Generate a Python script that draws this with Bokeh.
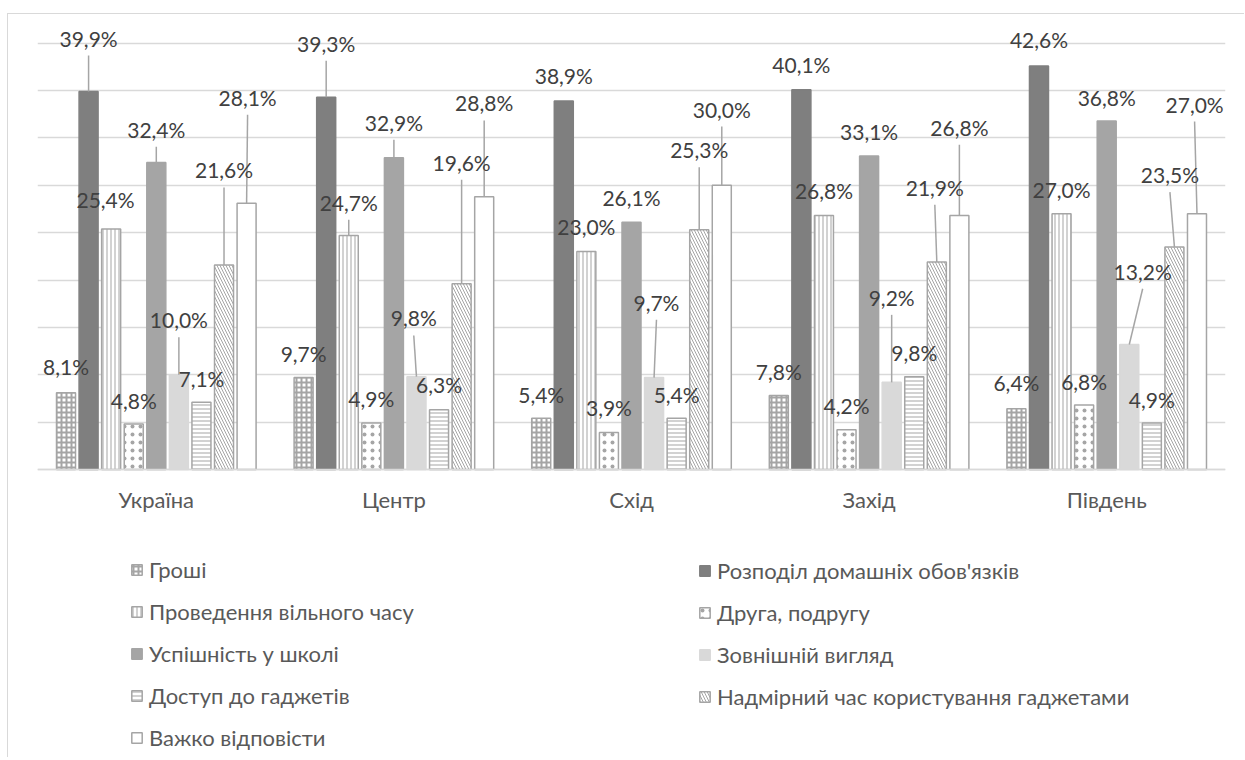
from bokeh.plotting import figure
from bokeh.models import Range1d, FixedTicker, ColumnDataSource, Legend, LegendItem
from bokeh.embed import file_html
from bokeh.resources import INLINE
from bokeh.core.properties import value

# ---------------- data ----------------
regions = ["Україна", "Центр", "Схід", "Захід", "Південь"]
series_names = [
    "Гроші",
    "Розподіл домашніх обов'язків",
    "Проведення вільного часу",
    "Друга, подругу",
    "Успішність у школі",
    "Зовнішній вигляд",
    "Доступ до гаджетів",
    "Надмірний час користування гаджетами",
    "Важко відповісти",
]
groshi = [8.1, 9.7, 5.4, 7.8, 6.4]
rozpodil = [39.9, 39.3, 38.9, 40.1, 42.6]
dozvillia = [25.4, 24.7, 23.0, 26.8, 27.0]
druh = [4.8, 4.9, 3.9, 4.2, 6.8]
uspishnist = [32.4, 32.9, 26.1, 33.1, 36.8]
vyhliad = [10.0, 9.8, 9.7, 9.2, 13.2]
dostup = [7.1, 6.3, 5.4, 9.8, 4.9]
nadmirnyi = [21.6, 19.6, 25.3, 21.9, 23.5]
vazhko = [28.1, 28.8, 30.0, 26.8, 27.0]
series_values = [groshi, rozpodil, dozvillia, druh, uspishnist, vyhliad, dostup, nadmirnyi, vazhko]
grid_ticks = [0, 5, 10, 15, 20, 25, 30, 35, 40, 45]

# ---------------- label placement (pixel offsets of the label centre from the bar top) ----------------
label_dx = [
    [0, 0, -5.6, 0, 0, 0, 0, 0, 1],
    [0, 0, 0, 0, 0, -2.7, 0, 0, 0],
    [0, 0, 0, 0, 0, 2.4, 0, 0, 0],
    [0, 0, 0, 0, 0, 0, 0, -2, 0],
    [0, 0, 0, 0, 0, 13.4, 0, -4.5, -2.4],
]
label_dy = [
    [-26, -53.5, -29.4, -23.5, -33.4, -55, -24, -95, -106],
    [-24.6, -54, -33.3, -24.6, -35.6, -58.7, -25.3, -121.5, -93.7],
    [-24.3, -25.5, -25.3, -25.3, -25, -75.3, -24.3, -80, -76.3],
    [-24.3, -25, -25, -24, -24.6, -85, -23.7, -74.7, -88.3],
    [-26, -26.5, -24, -23.8, -23.6, -73.2, -24, -72.2, -109.7],
]

# ---------------- styles ----------------
GRAY_OUT = "#a5a5a5"
styles = [
    dict(fill_color="white", line_color=GRAY_OUT, hatch_pattern="cross", hatch_color=GRAY_OUT, hatch_scale=5, hatch_weight=2),
    dict(fill_color="#7f7f7f", line_color="#7f7f7f"),
    dict(fill_color="white", line_color=GRAY_OUT, hatch_pattern="vertical_line", hatch_color=GRAY_OUT, hatch_scale=4, hatch_weight=1),
    dict(fill_color="white", line_color=GRAY_OUT, hatch_pattern="dot", hatch_color=GRAY_OUT, hatch_scale=8, hatch_weight=1.5),
    dict(fill_color="#a5a5a5", line_color="#a5a5a5"),
    dict(fill_color="#d9d9d9", line_color="#d9d9d9"),
    dict(fill_color="white", line_color=GRAY_OUT, hatch_pattern="horizontal_line", hatch_color=GRAY_OUT, hatch_scale=4, hatch_weight=1),
    dict(fill_color="white", line_color=GRAY_OUT, hatch_pattern="left_diagonal_line", hatch_color=GRAY_OUT, hatch_scale=6, hatch_weight=1),
    dict(fill_color="white", line_color=GRAY_OUT),
]

FONT = "Lato"
W, H = 1237, 744
FL, FR, FT, FB = 29, 20, 1, 2
BASE = 455          # figure-pixel row of the value 0 baseline
PXY = 9.473         # pixels per percentage point
Y_END = (BASE - FT) / PXY
Y_START = -(H - FB - BASE) / PXY
PITCH = 0.095
BAR_W = 0.08
frame_w = W - FL - FR
PXX = frame_w / len(regions)

p = figure(
    width=W, height=H,
    x_range=Range1d(0, len(regions)), y_range=Range1d(Y_START, Y_END),
    min_border_left=FL, min_border_right=FR, min_border_top=FT, min_border_bottom=FB,
    output_backend="svg", toolbar_location=None,
)
p.margin = (13, 0, 0, 7)
p.styles = {"border-top": "1px solid #d9d9d9", "border-left": "1px solid #d9d9d9"}
p.outline_line_color = None
p.background_fill_color = "white"
p.border_fill_color = "white"

p.yaxis.visible = False
p.ygrid.ticker = FixedTicker(ticks=grid_ticks)
p.ygrid.grid_line_color = "#d9d9d9"
p.ygrid.grid_line_width = 1.5
p.xgrid.visible = False

centers = [i + 0.5 for i in range(len(regions))]
p.xaxis.fixed_location = 0
p.xaxis.ticker = FixedTicker(ticks=centers)
p.xaxis.major_label_overrides = {c: r for c, r in zip(centers, regions)}
p.xaxis.axis_line_color = "#d9d9d9"
p.xaxis.axis_line_width = 1.5
p.xaxis.major_tick_line_color = None
p.xaxis.minor_tick_line_color = None
p.xaxis.major_label_text_font = FONT
p.xaxis.major_label_text_font_size = "22px"
p.xaxis.major_label_text_color = "#595959"
p.xaxis.major_label_standoff = 10

renderers = []
lab_x, lab_y, lab_t = [], [], []
lx0, ly0, lx1, ly1 = [], [], [], []
for s, vals in enumerate(series_values):
    xs = [centers[i] + (s - 4) * PITCH for i in range(len(regions))]
    src = ColumnDataSource(dict(x=xs, top=vals))
    r = p.vbar(x="x", top="top", bottom=0, width=BAR_W, source=src, line_width=1.5, **styles[s])
    renderers.append(r)
    for i, v in enumerate(vals):
        dx = label_dx[i][s]
        dy = label_dy[i][s]
        tx = xs[i] + dx / PXX
        ty = v + (-dy) / PXY
        lab_x.append(tx)
        lab_y.append(ty)
        lab_t.append(f"{v:.1f}%".replace(".", ","))
        if dy < -31:
            lx0.append(tx)
            ly0.append(v + (-dy - 17.5) / PXY)
            lx1.append(xs[i])
            ly1.append(v)

p.segment(x0=lx0, y0=ly0, x1=lx1, y1=ly1, line_color="#a5a5a5", line_width=1.5)
p.text(x=lab_x, y=lab_y, text=lab_t, text_font=value(FONT), text_font_size="21px",
       text_color="#404040", text_align="center", text_baseline="middle")

common = dict(
    glyph_width=13, glyph_height=13, label_text_font=FONT, label_text_font_size="22px",
    label_text_color="#595959", label_standoff=6, spacing=15, padding=0, margin=0,
    label_height=24, border_line_color=None, background_fill_alpha=0,
)
leg_left = Legend(items=[LegendItem(label=series_names[s], renderers=[renderers[s]]) for s in (0, 2, 4, 6, 8)],
                  location=(93, 5), **common)
leg_right = Legend(items=[LegendItem(label=series_names[s], renderers=[renderers[s]]) for s in (1, 3, 5, 7)],
                   location=(661, 46), **common)
p.add_layout(leg_left)
p.add_layout(leg_right)

open("out.html", "w").write(file_html(p, INLINE))
